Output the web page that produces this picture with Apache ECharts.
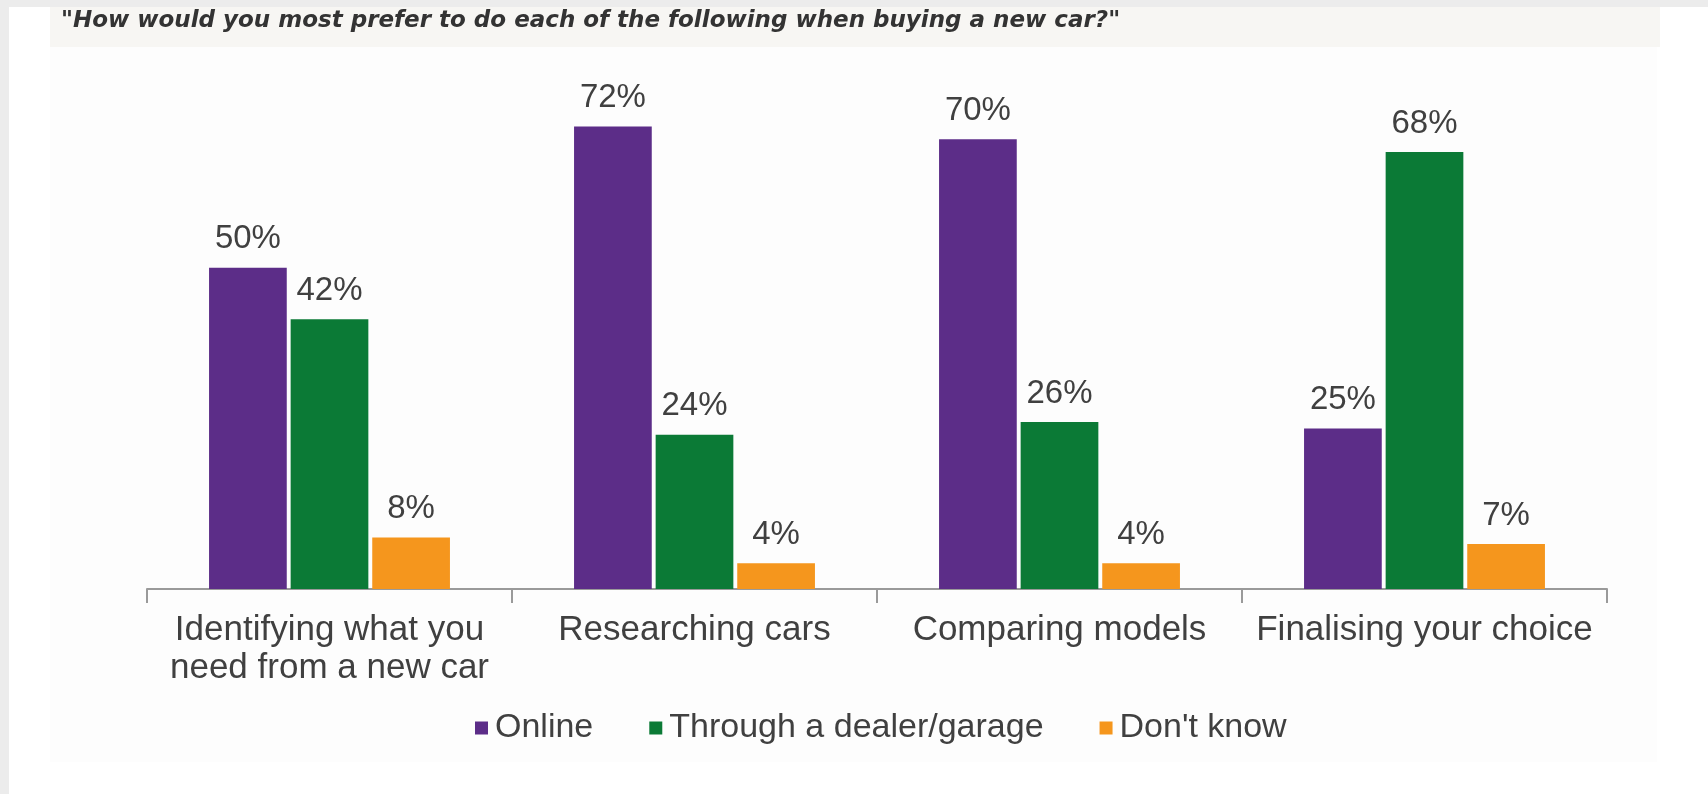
<!DOCTYPE html>
<html>
<head>
<meta charset="utf-8">
<script src="https://cdn.jsdelivr.net/npm/echarts@6/dist/echarts.min.js"></script>
<style>
html,body{margin:0;padding:0;background:#ffffff;}
#chart{width:1708px;height:794px;}
</style>
</head>
<body>
<div id="chart"></div>
<script>
const titleText = '"How would you most prefer to do each of the following when buying a new car?"';
const categories = ['Identifying what you\nneed from a new car', 'Researching cars', 'Comparing models', 'Finalising your choice'];
const seriesNames = ['Online', 'Through a dealer/garage', "Don't know"];
const onlineValues = [50, 72, 70, 25];
const dealerValues = [42, 24, 26, 68];
const dontKnowValues = [8, 4, 4, 7];
const colors = ['#5c2d88', '#0b7a36', '#f5961d'];

const chart = echarts.init(document.getElementById('chart'), null, {renderer: 'canvas'});

const labelStyle = {
  show: true,
  position: 'top',
  distance: 12,
  formatter: '{c}%',
  color: '#404040',
  fontFamily: 'Liberation Sans, Arial, sans-serif',
  fontSize: 33
};

function makeSeries(name, data, color) {
  return {
    name: name,
    type: 'bar',
    data: data,
    barGap: '5%',
    barCategoryGap: '34%',
    itemStyle: {color: color},
    label: labelStyle,
    emphasis: {disabled: true}
  };
}

chart.setOption({
  backgroundColor: '#ffffff',
  animation: false,
  color: colors,
  graphic: [
    {type: 'rect', silent: true, z: -10, shape: {x: 0, y: 0, width: 1708, height: 7}, style: {fill: '#ececec'}},
    {type: 'rect', silent: true, z: -10, shape: {x: 0, y: 0, width: 9, height: 794}, style: {fill: '#ececec'}},
    {type: 'rect', silent: true, z: -10, shape: {x: 50, y: 7, width: 1610, height: 40}, style: {fill: '#f7f6f3'}},
    {type: 'rect', silent: true, z: -10, shape: {x: 50, y: 47, width: 1607, height: 715}, style: {fill: '#fdfdfd'}}
  ],
  title: {
    text: titleText,
    left: 56,
    top: 5,
    textStyle: {
      fontFamily: 'DejaVu Sans, Verdana, sans-serif',
      fontStyle: 'italic',
      fontWeight: 'bold',
      fontSize: 23,
      color: '#333333'
    }
  },
  legend: {
    data: seriesNames,
    left: 470,
    top: 706,
    icon: 'rect',
    itemWidth: 13,
    itemHeight: 13,
    itemGap: 56,
    textStyle: {
      fontFamily: 'Liberation Sans, Arial, sans-serif',
      fontSize: 34,
      color: '#404040',
      padding: [0, 0, 0, 2]
    }
  },
  grid: {
    left: 147,
    right: 101,
    top: 75,
    bottom: 205,
    containLabel: false
  },
  xAxis: {
    type: 'category',
    data: categories,
    axisLine: {show: true, lineStyle: {color: '#9a9a9a', width: 2}},
    axisTick: {show: true, length: 14, lineStyle: {color: '#9a9a9a', width: 2}},
    axisLabel: {
      margin: 22,
      interval: 0,
      color: '#404040',
      fontFamily: 'Liberation Sans, Arial, sans-serif',
      fontSize: 35,
      lineHeight: 38
    }
  },
  yAxis: {
    type: 'value',
    min: 0,
    max: 80,
    show: false,
    splitLine: {show: false}
  },
  series: [
    makeSeries(seriesNames[0], onlineValues, colors[0]),
    makeSeries(seriesNames[1], dealerValues, colors[1]),
    makeSeries(seriesNames[2], dontKnowValues, colors[2])
  ]
});
</script>
</body>
</html>
